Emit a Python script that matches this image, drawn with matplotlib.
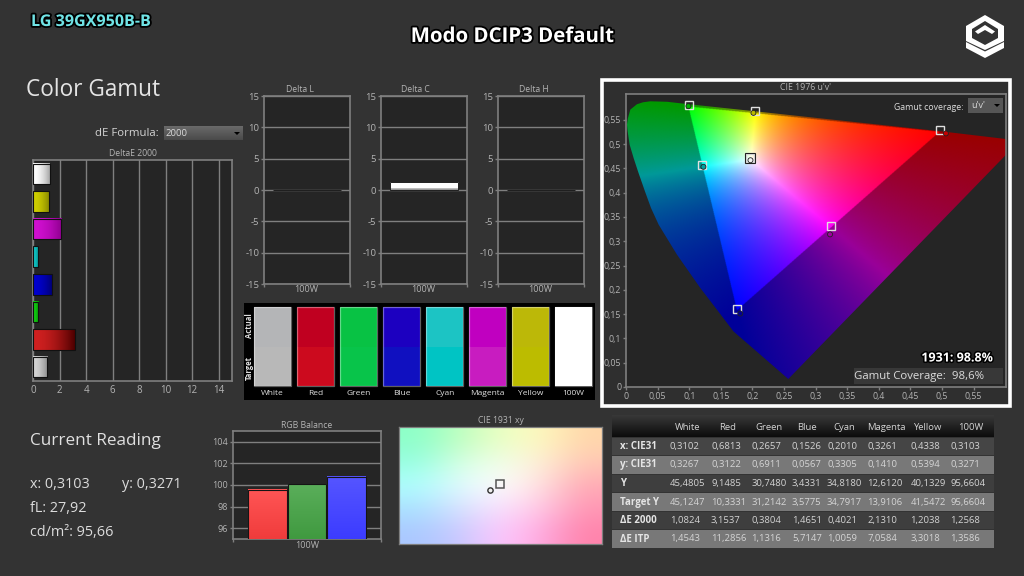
import numpy as np
import matplotlib
matplotlib.use('Agg')
import matplotlib.pyplot as plt
import matplotlib.patheffects as pe
from matplotlib.patches import Rectangle, Polygon

W, H = 1024, 576
plt.rcParams['font.family'] = ['Open Sans', 'DejaVu Sans']
plt.rcParams['axes.unicode_minus'] = False

BG = '#333333'
PANEL = '#252525'
LINE = '#7f7f7f'
TICK = '#b4b4b4'

# table values
names = ['White', 'Red', 'Green', 'Blue', 'Cyan', 'Magenta', 'Yellow', '100W']
x_cie = [0.3102, 0.6813, 0.2657, 0.1526, 0.2010, 0.3261, 0.4338, 0.3103]
y_cie = [0.3267, 0.3122, 0.6911, 0.0567, 0.3305, 0.1410, 0.5394, 0.3271]
lum_y = [45.4805, 9.1485, 30.7480, 3.4331, 34.8180, 12.6120, 40.1329, 95.6604]
target_y = [45.1247, 10.3331, 31.2142, 3.5775, 34.7917, 13.9106, 41.5472, 95.6604]
de_2000 = [1.0824, 3.1537, 0.3804, 1.4651, 0.4021, 2.1310, 1.2038, 1.2568]
de_itp = [1.4543, 11.2856, 1.1316, 5.7147, 1.0059, 7.0584, 3.3018, 1.3586]
row_names = ['x: CIE31', 'y: CIE31', 'Y', 'Target Y', 'ΔE 2000', 'ΔE ITP']

# DeltaE bars, gradient left/right colours
bar_left = ['#d4d4d4', '#d02020', '#10d010', '#0000d0', '#10c8c8', '#d010d0', '#d0d000', '#ffffff']
bar_right = ['#8c8c8c', '#500000', '#089008', '#000070', '#088888', '#900090', '#8c8c00', '#a8a8a8']

# delta panels
delta_titles = ['Delta L', 'Delta C', 'Delta H']
delta_values = [0.02, 1.2568, 0.02]
delta_ticks = [-15, -10, -5, 0, 5, 10, 15]

# swatches
actual_colors = ['#b4b5b7', '#c00020', '#08c244', '#1c00c0', '#1cc4c4', '#c000c0', '#bcb808', '#ffffff']
target_colors = ['#b8b8b8', '#cc0a1e', '#08c44a', '#1010c0', '#00c4c4', '#c81cc0', '#bcbc00', '#ffffff']

# CIE u'v' diagram
locus_u = [0.2568, 0.2126, 0.1700, 0.1440, 0.1176, 0.0807, 0.0517, 0.0396, 0.0300, 0.0190, 0.0121, 0.0058,
           0.0026, 0.0015, 0.0030, 0.0069, 0.0174, 0.0270, 0.0385, 0.0650, 0.0990, 0.2000, 0.3500,
           0.5000, 0.6230]
locus_v = [0.0165, 0.0665, 0.1145, 0.1590, 0.2037, 0.2723, 0.3340, 0.3683, 0.4026, 0.4437, 0.4710, 0.4986,
           0.5260, 0.5400, 0.5530, 0.5710, 0.5820, 0.5860, 0.5880, 0.5870, 0.5820, 0.5680, 0.5470,
           0.5260, 0.5070]
target_u = [0.1970, 0.4963, 0.0990, 0.1750, 0.1203, 0.3250, 0.2046]
target_v = [0.4705, 0.5295, 0.5810, 0.1598, 0.4560, 0.3306, 0.5686]
dot_colors = ['#f4f4f4', '#c80000', '#00b000', '#000090', '#00a0a0', '#a000a0', '#b8b800']
primaries_xy = [(0.680, 0.320), (0.265, 0.690), (0.150, 0.060)]
white_xy = (0.3127, 0.3290)
uv_ticks = [0, 0.05, 0.1, 0.15, 0.2, 0.25, 0.3, 0.35, 0.4, 0.45, 0.5, 0.55]

# RGB balance
rgb_values = [99.55, 100.05, 100.78]
rgb_top = ['#ff5555', '#5aae5a', '#5555ff']
rgb_bottom = ['#f03c3c', '#409a40', '#3c3cff']

# 1931 patch colours
patch_colors = [
    [(140, 255, 200), (190, 255, 190), (235, 255, 195), (255, 250, 190), (255, 215, 170)],
    [(150, 255, 225), (215, 255, 225), (240, 255, 235), (255, 240, 215), (255, 200, 180)],
    [(175, 255, 255), (225, 250, 255), (255, 255, 255), (255, 225, 225), (255, 170, 180)],
    [(170, 225, 255), (215, 225, 255), (250, 225, 255), (255, 200, 230), (255, 150, 180)],
    [(170, 200, 255), (200, 200, 255), (255, 200, 255), (255, 170, 225), (255, 130, 170)],
]


def add_ax(x0, y0, x1, y1, z=2):
    a = fig.add_axes([x0 / W, 1 - y1 / H, (x1 - x0) / W, (y1 - y0) / H], zorder=z)
    a.set_facecolor(PANEL)
    for s in a.spines.values():
        s.set_color(LINE)
        s.set_linewidth(1.2)
    a.tick_params(colors=TICK, labelsize=6.5, length=2.5, width=1, color=LINE, pad=1)
    return a


def gradient(a, x0, x1, y0, y1, c0, c1, horizontal=True, z=3, power=1.0):
    c0 = np.array(matplotlib.colors.to_rgb(c0))
    c1 = np.array(matplotlib.colors.to_rgb(c1))
    t = np.linspace(0, 1, 32)[:, None] ** power
    img = c0 * (1 - t) + c1 * t
    img = img[None, :, :] if horizontal else img[:, None, :]
    a.imshow(img, extent=(x0, x1, y0, y1), origin='upper', aspect='auto', zorder=z, interpolation='bilinear')


def xy_to_uv(x, y):
    d = -2 * x + 12 * y + 3
    return 4 * x / d, 9 * y / d


fig = plt.figure(figsize=(W / 100, H / 100), dpi=100, facecolor=BG)

bg = fig.add_axes([0, 0, 1, 1], zorder=0)
bg.set_xlim(0, W)
bg.set_ylim(H, 0)
bg.axis('off')
top = fig.add_axes([0, 0, 1, 1], zorder=10)
top.set_xlim(0, W)
top.set_ylim(H, 0)
top.axis('off')
top.patch.set_alpha(0)

# header
stroke = [pe.withStroke(linewidth=2.6, foreground='black')]
bg.text(512, 37, 'Modo DCIP3 Default', color='white', fontsize=14.7, fontweight='bold',
        ha='center', va='center', path_effects=stroke)
bg.text(31, 22, 'LG 39GX950B-B', color='#70e4e6', fontsize=11.6, fontweight='bold',
        ha='left', va='center', path_effects=stroke)
bg.add_patch(Polygon([(985, 15), (1004, 26), (1004, 41), (985, 50), (966, 41), (966, 26)], color='white', lw=0))
bg.add_patch(Polygon([(985, 21), (998, 29), (998, 38), (985, 45), (972, 38), (972, 29)], color=BG, lw=0))
bg.add_patch(Polygon([(985, 25), (995, 31.5), (992, 34), (985, 30), (978, 34), (975, 31.5)], color='white', lw=0))
bg.add_patch(Polygon([(966, 42), (985, 51.5), (1004, 42), (1004, 48), (985, 58), (966, 48)], color='white', lw=0))

bg.text(26, 90, 'Color Gamut', color='#e4e4e4', fontsize=16.3, ha='left', va='center')
bg.text(159, 133, 'dE Formula:', color='#d4d4d4', fontsize=8.2, ha='right', va='center')
gradient(bg, 164, 243, 140, 126, '#6a6a6a', '#4a4a4a', horizontal=False)
bg.set_xlim(0, W)
bg.set_ylim(H, 0)
bg.text(166, 134, '2000', color='#d8d8d8', fontsize=6.8, ha='left', va='center', zorder=5)
bg.add_patch(Polygon([(234, 132), (240, 132), (237, 135)], color='black', lw=0, zorder=5))
bg.text(133, 154, 'DeltaE 2000', color=TICK, fontsize=6.2, ha='center', va='center')

# deltaE bars
ax = add_ax(33, 160, 232, 381)
ypos = np.arange(len(names))
for i, v in enumerate(de_2000):
    gradient(ax, 0, v, i - 0.37, i + 0.37, bar_left[i], bar_right[i], power=1.8)
ax.barh(ypos, de_2000, height=0.74, facecolor='none', edgecolor='#111111', linewidth=0.8, zorder=4)
ax.set_xlim(0, 15)
ax.set_ylim(-0.5, 7.5)
ax.set_xticks(range(0, 15, 2))
ax.set_yticks([])
ax.grid(axis='x', color=LINE, linewidth=1, zorder=1)
ax.set_axisbelow(True)
ax.tick_params(axis='x', length=0, pad=3, labelsize=7)

# delta L C H
for i, x0 in enumerate([264, 381, 498]):
    ax = add_ax(x0, 96, x0 + 85.5, 284)
    if delta_values[i] > 0.1:
        gradient(ax, -0.4, 0.4, 0, delta_values[i], '#ffffff', '#ffffff', horizontal=False)
        gradient(ax, -0.4, 0.4, 0, delta_values[i] * 0.25, '#d0d0d0', '#888888', horizontal=False)
        ax.bar([0], [delta_values[i]], width=0.8, facecolor='none', edgecolor='#202020', linewidth=0.7, zorder=4)
    else:
        ax.bar([0], [delta_values[i]], width=0.8, color='#1c1c1c', edgecolor='#1c1c1c', linewidth=0.7, zorder=4)
    ax.set_xlim(-0.5, 0.5)
    ax.set_ylim(-15, 15)
    ax.set_yticks(delta_ticks)
    ax.set_xticks([-0.5, 0.5])
    ax.set_xticklabels([])
    ax.grid(axis='y', color=LINE, linewidth=1, zorder=1)
    ax.set_axisbelow(True)
    ax.tick_params(axis='y', labelsize=6.8)
    bg.text(x0 + 36 if i != 1 else x0 + 34, 89.5, delta_titles[i], color=TICK, fontsize=6.2, ha='center', va='center')
    bg.text(x0 + 42.5, 290, '100W', color=TICK, fontsize=6.5, ha='center', va='center')

# swatches
ax = fig.add_axes([244 / W, 1 - 400 / H, 351 / W, 97 / H], zorder=2, facecolor='black')
xpos = np.arange(len(names))
ax.bar(xpos, [0.402] * 8, bottom=0.144, width=0.86, color=target_colors, linewidth=0, zorder=2)
ax.bar(xpos, [0.413] * 8, bottom=0.546, width=0.86, color=actual_colors, linewidth=0, zorder=2)
ax.bar(xpos, [0.815] * 8, bottom=0.144, width=0.86, facecolor='none', edgecolor='#ffffff60', linewidth=0.9, zorder=3)
for xp, n in zip(xpos, names):
    ax.text(xp, 0.07, n, color='#e0e0e0', fontsize=6, ha='center', va='center')
ax.set_xlim(-0.667, 7.495)
ax.set_ylim(0, 1)
ax.set_xticks([])
ax.set_yticks([])
for s in ax.spines.values():
    s.set_visible(False)
top.text(249, 326, 'Actual', color='#e0e0e0', fontsize=5.5, rotation=90, ha='center', va='center', fontweight='bold')
top.text(249, 368, 'Target', color='#e0e0e0', fontsize=5.5, rotation=90, ha='center', va='center', fontweight='bold')

# CIE 1976 box
bg.add_patch(Rectangle((601.5, 79.5), 408, 326, facecolor='#2f2f2f', edgecolor='white', linewidth=2.6))
bg.text(806, 88, "CIE 1976 u'v'", color=TICK, fontsize=6.3, ha='center', va='center')
ax = add_ax(626, 94, 1006, 387)

uu, vv = np.meshgrid(np.linspace(0, 0.64, 900), np.linspace(0, 0.61, 900))
den = 6 * uu - 16 * vv + 12
cx = 9 * uu / den
cy = np.maximum(4 * vv / den, 1e-4)
xyz = np.stack([cx / cy, np.ones_like(cx), (1 - cx - cy) / cy], axis=-1)
prim = np.array([[px / py, 1, (1 - px - py) / py] for px, py in primaries_xy]).T
wx, wy = white_xy
scale = np.linalg.solve(prim, np.array([wx / wy, 1, (1 - wx - wy) / wy]))
rgb = xyz @ np.linalg.inv(prim * scale).T
outside = (rgb < 0).any(axis=-1)
rgb = np.clip(rgb, 0, None)
rgb = rgb / rgb.max(axis=-1, keepdims=True)
rgb = rgb ** 0.95
rgb[outside] *= 0.6
im = ax.imshow(rgb, extent=(0, 0.64, 0, 0.61), origin='lower', aspect='auto', zorder=2, interpolation='bilinear')
im.set_clip_path(Polygon(np.column_stack([locus_u, locus_v]), closed=True, transform=ax.transData))

ax.plot(target_u, target_v, ls='none', marker='s', ms=6.2, mfc='none', mec='#e0e0e0', mew=1.0, zorder=5)
ax.plot(target_u[0], target_v[0], ls='none', marker='s', ms=7.4, mfc='none', mec='#222222', mew=0.8, zorder=5)
act_u, act_v = xy_to_uv(np.array(x_cie[:7]), np.array(y_cie[:7]))
ax.scatter(act_u, act_v, s=13, c=dot_colors, edgecolors='#222222', linewidths=0.6, zorder=6)
ax.set_xlim(0, 0.6013)
ax.set_ylim(0, 0.603)
ax.set_xticks(uv_ticks)
ax.set_yticks(uv_ticks)
uv_labels = [str(t).replace('.', ',') for t in uv_ticks]
uv_labels[0] = '0'
ax.set_xticklabels(uv_labels)
ax.set_yticklabels(uv_labels)
ax.tick_params(labelsize=6.3, length=2.5)

top.text(963, 107, 'Gamut coverage:', color='#dcdcdc', fontsize=6.3, ha='right', va='center')
top.add_patch(Rectangle((968, 98), 35, 15, facecolor='#565656', edgecolor='none'))
top.text(971, 106, "u'v'", color='#dcdcdc', fontsize=6.5, ha='left', va='center')
top.add_patch(Polygon([(994, 104), (1000, 104), (997, 107)], color='black', lw=0))
top.text(957, 358, '1931: 98.8%', color='white', fontsize=9, fontweight='bold', ha='center', va='center',
         path_effects=[pe.withStroke(linewidth=2.2, foreground='black')])
top.add_patch(Rectangle((854, 368), 149, 16, facecolor='#383838', edgecolor='none'))
top.text(854, 376, 'Gamut Coverage:  98,6%', color='#dcdcdc', fontsize=8.2, ha='left', va='center')

# current reading
bg.text(30, 441, 'Current Reading', color='#e0e0e0', fontsize=12.3, ha='left', va='center')
bg.text(30, 484, 'x: 0,3103', color='#dcdcdc', fontsize=10.4, ha='left', va='center')
bg.text(122, 484, 'y: 0,3271', color='#dcdcdc', fontsize=10.4, ha='left', va='center')
bg.text(30, 508, 'fL: 27,92', color='#dcdcdc', fontsize=10.4, ha='left', va='center')
bg.text(30, 532, 'cd/m²: 95,66', color='#dcdcdc', fontsize=10.4, ha='left', va='center')

# RGB balance
ax = add_ax(233, 431, 381, 539)
offs = [-0.268, 0, 0.268]
for i, v in enumerate(rgb_values):
    gradient(ax, offs[i] - 0.13, offs[i] + 0.13, 95, v, rgb_top[i], rgb_bottom[i], horizontal=False)
ax.bar(offs, rgb_values, width=0.26, facecolor='none', edgecolor='#151515', linewidth=0.8, zorder=4)
ax.set_xlim(-0.5, 0.5)
ax.set_ylim(95, 105)
ax.set_yticks([96, 98, 100, 102, 104])
ax.set_xticks([-0.5, 0.5])
ax.set_xticklabels([])
ax.grid(axis='y', color=LINE, linewidth=1, zorder=1)
ax.set_axisbelow(True)
bg.text(307, 425, 'RGB Balance', color=TICK, fontsize=6.2, ha='center', va='center')
bg.text(307, 545, '100W', color=TICK, fontsize=6.5, ha='center', va='center')

# CIE 1931 patch
ax = add_ax(399, 427, 602, 544)
for s in ax.spines.values():
    s.set_linewidth(0.9)
ax.imshow(np.array(patch_colors, dtype=float) / 255, extent=(0.2897, 0.3357, 0.3076, 0.3495),
          aspect='auto', interpolation='bicubic', zorder=2)
ax.plot([white_xy[0]], [white_xy[1]], ls='none', marker='s', ms=6.2, mfc='none', mec='#555555', mew=1.1, zorder=4)
ax.plot([x_cie[7]], [y_cie[7]], ls='none', marker='o', ms=3.8, mfc='#f0f0f0', mec='#333333', mew=1.0, zorder=4)
ax.set_xlim(0.2897, 0.3357)
ax.set_ylim(0.3076, 0.3495)
ax.set_xticks([])
ax.set_yticks([])
bg.text(500.5, 420.5, 'CIE 1931 xy', color=TICK, fontsize=6.2, ha='center', va='center')

# table
rows = [x_cie, y_cie, lum_y, target_y, de_2000, de_itp]
row_tops = [437.5, 456, 474.5, 493, 511.5, 530]
row_fills = ['#454545', '#787878', '#3e3e3e', '#787878', '#3e3e3e', '#787878']
col_x = [670, 711, 751.5, 792, 827, 867.5, 910.5, 950.5]
head_x = [687.5, 728, 768.5, 806.5, 844, 886, 927, 971]
gradient(bg, 612, 994, 437.5, 416, '#383838', '#0c0c0c', horizontal=False)
bg.set_xlim(0, W)
bg.set_ylim(H, 0)
for i, vals in enumerate(rows):
    bg.add_patch(Rectangle((612, row_tops[i]), 382, 17.5, facecolor=row_fills[i], edgecolor='none', zorder=3))
    bg.text(620, row_tops[i] + 9, row_names[i], color='#e4e4e4', fontsize=7, fontweight='bold', ha='left', va='center', zorder=4)
    for x, v in zip(col_x, vals):
        bg.text(x, row_tops[i] + 9, f'{v:.4f}'.replace('.', ','), color='#d4d4d4', fontsize=6.8, ha='left', va='center', zorder=4)
for x, n in zip(head_x, names):
    bg.text(x, 427.5, n, color='#d4d4d4', fontsize=6.8, ha='center', va='center', zorder=4)

fig.savefig('out.png', dpi=100, facecolor=BG)
